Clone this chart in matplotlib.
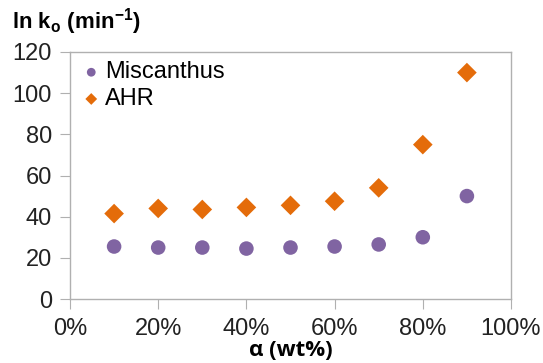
import matplotlib.pyplot as plt
from matplotlib.ticker import PercentFormatter

alpha = [0.1, 0.2, 0.3, 0.4, 0.5, 0.6, 0.7, 0.8, 0.9]
miscanthus = [25.5, 25.0, 25.0, 24.5, 25.0, 25.5, 26.5, 30.0, 50.0]
ahr = [41.5, 44.0, 43.5, 44.5, 45.5, 47.5, 54.0, 75.0, 110.0]

plt.rcParams["font.family"] = ["Liberation Sans", "DejaVu Sans"]

fig = plt.figure(figsize=(5.43, 3.63), dpi=100)
ax = fig.add_axes([70 / 543, 1 - 299 / 363, 441 / 543, 247 / 363])

ax.scatter(alpha, miscanthus, marker="o", s=110, color="#8064A2", edgecolors="none", label="Miscanthus", zorder=3)
ax.scatter(alpha, ahr, marker="D", s=100, color="#E46C0A", edgecolors="none", label="AHR", zorder=3)

ax.set_xlim(0, 1)
ax.set_ylim(0, 120)
ax.set_xticks([0, 0.2, 0.4, 0.6, 0.8, 1.0])
ax.set_yticks(range(0, 121, 20))
ax.xaxis.set_major_formatter(PercentFormatter(1.0, decimals=0))

for side in ax.spines.values():
    side.set_color("#b0b0b0")
    side.set_linewidth(1.0)
ax.tick_params(axis="both", direction="out", length=7, color="#b0b0b0", labelsize=17, labelcolor="#222222")
ax.tick_params(axis="x", pad=7)
ax.tick_params(axis="y", pad=6)

leg = ax.legend(loc="upper left", frameon=False, fontsize=17, handletextpad=0.1, handlelength=1.0,
                borderaxespad=0.1, borderpad=0.3, labelspacing=0.2, markerscale=0.6)

fig.text(12 / 543, 1 - 22 / 363, r"ln k$_\mathregular{o}$ (min$^\mathregular{-1}$)",
         fontsize=16, fontweight="bold", va="center", ha="left")
fig.text(291 / 543, 1 - 351 / 363, "α (wt%)",
         fontsize=16, fontweight="bold", va="center", ha="center", family=["Open Sans", "DejaVu Sans"])

fig.savefig("out.png", dpi=100)
